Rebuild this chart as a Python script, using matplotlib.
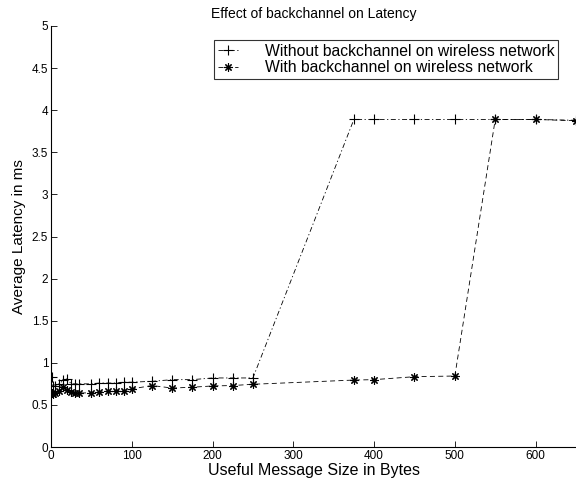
import matplotlib
matplotlib.use("Agg")
import matplotlib.pyplot as plt
from matplotlib.ticker import FuncFormatter

plt.rcParams['font.family'] = ['Liberation Sans', 'DejaVu Sans']

# Data
msg_size = [1, 2, 5, 10, 15, 20, 25, 30, 35, 50, 60, 70, 80, 90, 100,
            125, 150, 175, 200, 225, 250, 375, 400, 450, 500, 550, 600, 650]
latency_without = [0.83, 0.72, 0.73, 0.75, 0.79, 0.81, 0.75, 0.75, 0.75, 0.75,
                   0.76, 0.76, 0.76, 0.77, 0.77, 0.78, 0.80, 0.80, 0.82, 0.82,
                   0.82, 3.89, 3.89, 3.89, 3.89, 3.89, 3.89, 3.88]
latency_with = [0.64, 0.63, 0.64, 0.66, 0.71, 0.68, 0.65, 0.64, 0.64, 0.645,
                0.65, 0.665, 0.67, 0.67, 0.69, 0.73, 0.70, 0.71, 0.725, 0.73,
                0.745, 0.795, 0.80, 0.835, 0.843, 3.89, 3.89, 3.875]
labels = ["Without backchannel on wireless network",
          "With backchannel on wireless network"]
title = "Effect of backchannel on Latency"
xlabel = "Useful Message Size in Bytes"
ylabel = "Average Latency in ms"
xticks = [0, 100, 200, 300, 400, 500, 600]
yticks = [0, 0.5, 1, 1.5, 2, 2.5, 3, 3.5, 4, 4.5, 5]

fig = plt.figure(figsize=(5.76, 4.79), dpi=100)
ax = fig.add_axes([51/576, 32/479, 525/576, 421/479])

ax.plot(msg_size, latency_without, color='black', linewidth=0.6,
        linestyle=(0, (6, 3, 1.5, 3)), marker='+', markersize=7,
        markeredgewidth=0.8, label=labels[0])
ax.plot(msg_size, latency_with, color='black', linewidth=0.6,
        linestyle=(0, (6, 4)), marker=(8, 2, 0), markersize=6,
        markeredgewidth=0.8, label=labels[1])

ax.set_xlim(0, 650)
ax.set_ylim(0, 5)
ax.set_xticks(xticks)
ax.set_yticks(yticks)
ax.yaxis.set_major_formatter(FuncFormatter(lambda v, p: '%g' % v))
ax.xaxis.set_major_formatter(FuncFormatter(lambda v, p: '%g' % v))
ax.tick_params(direction='in', length=4, width=0.6, labelsize=8.5, pad=2)
for s in ['top', 'right']:
    ax.spines[s].set_visible(False)
for s in ['left', 'bottom']:
    ax.spines[s].set_linewidth(0.8)

ax.set_title(title, fontsize=10, pad=6)
ax.set_xlabel(xlabel, fontsize=11.5, labelpad=1)
ax.set_ylabel(ylabel, fontsize=11, labelpad=4)

leg = ax.legend(loc='upper right', bbox_to_anchor=(0.966, 0.967),
                fontsize=11.3, frameon=True, fancybox=False, shadow=False,
                handlelength=1.3, handletextpad=1.7, borderpad=0.25,
                labelspacing=0.1, borderaxespad=0)
leg.get_frame().set_edgecolor('black')
leg.get_frame().set_linewidth(0.8)

fig.savefig("out.png", dpi=100)
